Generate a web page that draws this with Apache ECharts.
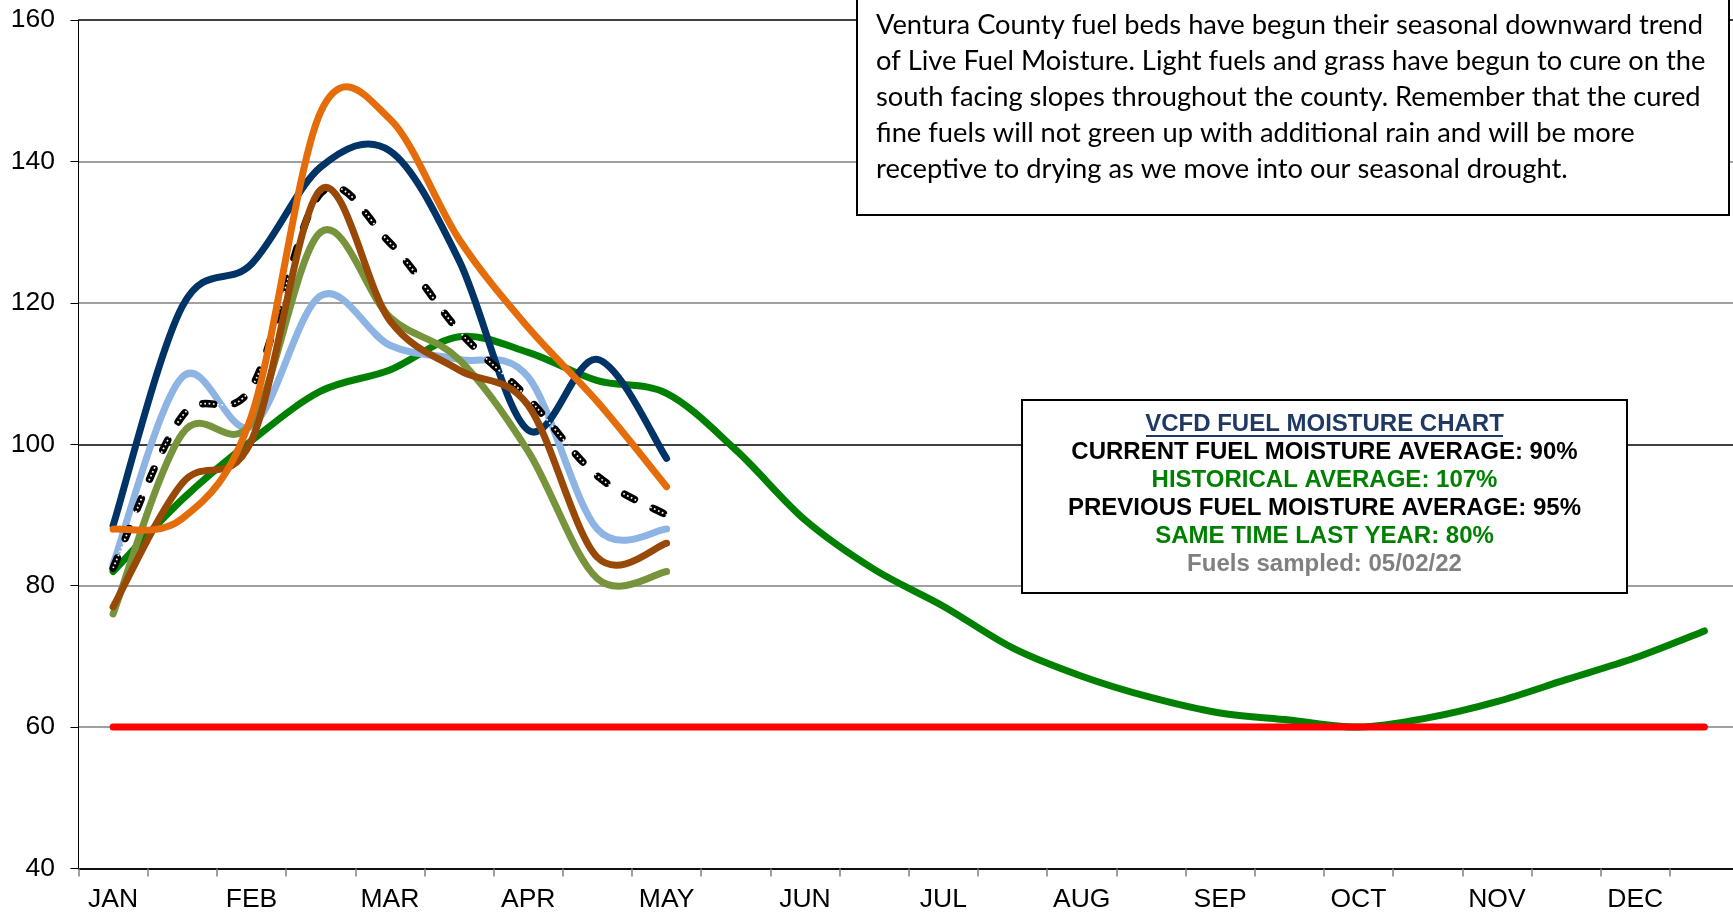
<!DOCTYPE html>
<html><head><meta charset="utf-8">
<script src="https://cdn.jsdelivr.net/npm/echarts@6/dist/echarts.min.js"></script>
<style>html,body{margin:0;padding:0;background:#fff;overflow:hidden}#c{width:1733px;height:915px}</style>
</head><body><div id="c"></div>
<script>
// ---- data ----
const months = ['JAN','FEB','MAR','APR','MAY','JUN','JUL','AUG','SEP','OCT','NOV','DEC'];
const categories = months.flatMap(m => [m, m + ' 15']);
const yMin = 40, yMax = 160, yStep = 20;

const seriesNavy      = [88.5, 119.5, 125.5, 139.2, 141.5, 126, 102, 112, 98];
const seriesOrange    = [88, 89.5, 104, 147, 146, 129, 116.5, 106, 94];
const seriesLightBlue = [83, 109.5, 102.5, 121, 114, 112, 109.5, 88, 88];
const seriesOlive     = [76, 101.5, 103, 130, 118, 112, 99, 81, 82];
const seriesBrown     = [77, 94.5, 100.5, 136, 117.5, 110.5, 105.5, 84, 86];
const seriesAverage   = [82.5, 104, 108, 135.5, 128.5, 116, 106.5, 95.5, 90];
const seriesHistorical = [82, 92.2, 100.5, 107.5, 110.5, 115.2, 113, 109, 107.2, 99.2, 89.3, 82.3,
                          77.1, 71.2, 67.2, 64.2, 62, 61, 60, 61.3, 63.6, 66.7, 69.8, 73.6];
const seriesCritical  = categories.map(() => 60);

const noteLines = [
  'Ventura County fuel beds have begun their seasonal downward trend',
  'of Live Fuel Moisture. Light fuels and grass have begun to cure on the',
  'south facing slopes throughout the county. Remember that the cured',
  'fine fuels will not green up with additional rain and will be more',
  'receptive to drying as we move into our seasonal drought.'
];
const infoTitle = 'VCFD FUEL MOISTURE CHART';
const infoLines = [
  ['CURRENT FUEL MOISTURE AVERAGE: 90%', '#000000'],
  ['HISTORICAL AVERAGE: 107%', '#008000'],
  ['PREVIOUS FUEL MOISTURE AVERAGE: 95%', '#000000'],
  ['SAME TIME LAST YEAR: 80%', '#008000'],
  ['Fuels sampled: 05/02/22', '#808080']
];

// ---- chart ----
const chart = echarts.init(document.getElementById('c'), null, {renderer: 'canvas'});
const T = 1 / 6; // Catmull-Rom style smoothing (like spreadsheet smoothed lines)

function splinePath(data, api) {
  const pts = [];
  data.forEach((v, i) => { if (v != null) pts.push(api.coord([i, v])); });
  const n = pts.length;
  let d = 'M' + pts[0][0] + ',' + pts[0][1];
  for (let i = 0; i < n - 1; i++) {
    const p0 = pts[Math.max(i - 1, 0)], p1 = pts[i], p2 = pts[i + 1], p3 = pts[Math.min(i + 2, n - 1)];
    const c1x = p1[0] + (p2[0] - p0[0]) * T, c1y = p1[1] + (p2[1] - p0[1]) * T;
    const c2x = p2[0] - (p3[0] - p1[0]) * T, c2y = p2[1] - (p3[1] - p1[1]) * T;
    d += ' C' + c1x + ',' + c1y + ' ' + c2x + ',' + c2y + ' ' + p2[0] + ',' + p2[1];
  }
  return d;
}

function curve(name, data, style) {
  return {
    name, type: 'custom', coordinateSystem: 'cartesian2d', silent: true, clip: false,
    data: data.map((v, i) => [i, v]),
    encode: {x: 0, y: 1},
    renderItem: (params, api) => params.dataIndex === 0 ? {
      type: 'path',
      shape: {pathData: splinePath(data, api)},
      style: Object.assign({fill: 'none', lineCap: 'round', lineJoin: 'round'}, style)
    } : null
  };
}

const LW = 7;
const graphic = [];
graphic.push({type: 'rect', z: 100, shape: {x: 857, y: -5, width: 872, height: 220},
  style: {fill: '#fff', stroke: '#000', lineWidth: 2}});
noteLines.forEach((t, i) => graphic.push({type: 'text', z: 101, x: 876, y: 25.5 + i * 35.9,
  style: {text: t, font: '27.3px Lato', fill: '#000', textAlign: 'left', textVerticalAlign: 'middle'}}));
graphic.push({type: 'rect', z: 100, shape: {x: 1022, y: 400, width: 605, height: 193},
  style: {fill: '#fff', stroke: '#000', lineWidth: 2}});
graphic.push({type: 'text', z: 101, x: 1324.5, y: 424,
  style: {text: infoTitle, font: 'bold 24px "Liberation Sans"', fill: '#1F3864', textAlign: 'center', textVerticalAlign: 'middle'}});
graphic.push({type: 'line', z: 101, shape: {x1: 1146, y1: 436, x2: 1503, y2: 436},
  style: {stroke: '#1F3864', lineWidth: 2}});
infoLines.forEach((l, i) => graphic.push({type: 'text', z: 101, x: 1324.5, y: 452 + i * 28.2,
  style: {text: l[0], font: 'bold 24px "Liberation Sans"', fill: l[1], textAlign: 'center', textVerticalAlign: 'middle'}}));

chart.setOption({
  animation: false,
  grid: {left: 78.5, right: -6, top: 20, bottom: 46.5, containLabel: false, outerBoundsMode: 'none'},
  xAxis: {
    type: 'category', data: categories, boundaryGap: true,
    axisLine: {lineStyle: {color: '#000', width: 1.5}},
    axisTick: {show: true, interval: 0, length: 8, lineStyle: {color: '#808080', width: 1.5}},
    axisLabel: {interval: 1, formatter: v => v.split(' ')[0], fontFamily: 'Liberation Sans', fontSize: 26.5, color: '#000', margin: 18},
    splitLine: {show: false}
  },
  yAxis: {
    type: 'value', min: yMin, max: yMax, interval: yStep,
    axisLine: {show: true, lineStyle: {color: '#000', width: 1}},
    axisTick: {show: true, length: 8, lineStyle: {color: '#000', width: 1}},
    axisLabel: {fontFamily: 'Liberation Sans', fontSize: 26.5, color: '#000', margin: 23.5},
    splitLine: {show: true, lineStyle: {color: ['#000', '#808080', '#808080', '#000', '#808080', '#808080', '#000'], width: 1.5}}
  },
  series: [
    curve('Historical', seriesHistorical, {stroke: '#008000', lineWidth: LW}),
    {name: 'Critical', type: 'line', data: seriesCritical, symbol: 'none', silent: true,
      lineStyle: {color: '#FF0000', width: LW, cap: 'round'}},
    curve('Light blue', seriesLightBlue, {stroke: '#8DB4E2', lineWidth: LW}),
    curve('Navy', seriesNavy, {stroke: '#003366', lineWidth: LW}),
    curve('Average', seriesAverage, {stroke: '#000', lineWidth: 7.5, lineDash: [11, 21]}),
    curve('Average dots', seriesAverage, {stroke: '#fff', lineWidth: 1.7, lineDash: [1.7, 2.6], lineCap: 'butt'}),
    curve('Olive', seriesOlive, {stroke: '#77933C', lineWidth: LW}),
    curve('Brown', seriesBrown, {stroke: '#984807', lineWidth: LW}),
    curve('Orange', seriesOrange, {stroke: '#E46C0A', lineWidth: LW})
  ],
  graphic
});
</script></body></html>
